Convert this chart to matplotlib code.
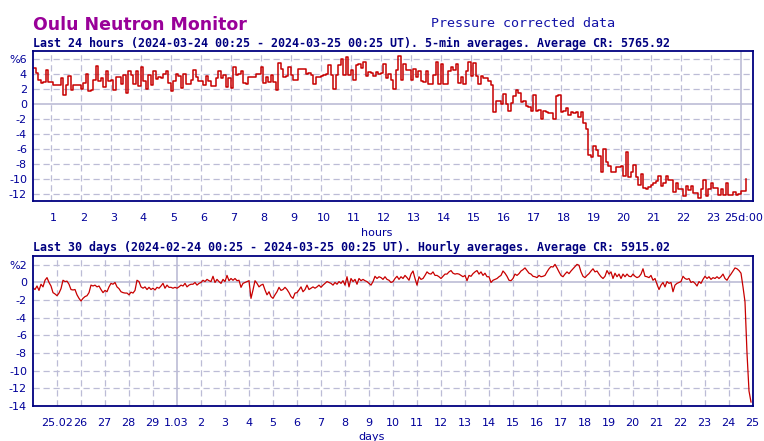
import numpy as np
import matplotlib
matplotlib.use('Agg')
import matplotlib.pyplot as plt
from matplotlib.transforms import ScaledTranslation

# ---------------- data ----------------
# Last 24 hours, 5-min averages (% relative to average), starting 2024-03-24 00:25 UT
day_values = [
    4.7, 4.1, 3.2, 2.75, 2.85, 4.5, 2.85, 2.9, 2.45, 2.5, 2.5, 3.4, 1.2, 2.5, 3.65, 1.85, 2.45, 2.5, 2.5,
    1.95, 2.75, 4.0, 1.65, 1.85, 3.2, 5.0, 3.0, 3.35, 2.2, 4.4, 3.05, 3.2, 1.75, 3.5, 3.5,
    2.55, 3.8, 1.4, 4.4, 3.8, 2.65, 4.4, 2.3, 4.85, 3.05, 2.0, 3.8, 2.45, 4.3, 3.3, 3.55, 3.4, 4.0, 4.4,
    2.75, 1.65, 3.05, 3.95, 3.65, 2.1, 4.0, 2.65, 2.65, 3.2, 4.5, 3.5, 3.0, 3.0, 2.45, 3.65, 3.0, 2.3, 2.3,
    3.35, 4.3, 3.35, 3.85, 2.2, 3.35, 2.1, 4.85, 3.8, 3.95, 4.4, 2.75, 2.55, 3.5, 3.5, 3.5, 3.95, 3.95,
    4.85, 2.75, 3.5, 2.85, 3.85,
    2.85, 1.75, 5.4, 4.65, 3.5, 3.65, 4.9, 3.85, 3.2, 3.2, 4.65, 4.65, 4.65, 4.0, 4.1, 3.85, 2.55, 3.55,
    3.55, 3.7, 3.85, 4.0, 5.2, 3.85, 1.95, 3.85, 5.1, 6.0, 3.85, 6.2, 3.8, 4.5, 3.1, 5.2, 5.3, 4.75, 5.55,
    3.65, 4.2, 4.1, 3.65, 4.2, 4.0, 4.1, 5.3, 3.4, 4.0, 3.2, 2.0, 4.5, 6.4, 3.2, 5.3, 4.45, 4.45, 3.1,
    4.65, 3.5, 4.3, 3.05, 2.85, 4.4, 2.65, 2.55, 3.85, 5.55, 2.55, 5.3, 2.55, 2.55, 4.3, 4.9, 4.45, 5.3,
    2.75, 3.55, 2.55, 4.3, 5.5, 3.7, 5.4, 3.65, 2.55, 3.65, 3.4, 3.35, 3.0, 2.45, -1.15, 0.3, 0.4, 0.0,
    1.3, 0.0,
    -0.95, 0.1, 1.0, 1.75, 1.35, 0.2, 0.3, -0.35, -0.5, -1.0, 1.2, -1.0, -0.8, -2.0, -0.95, -1.1, -1.25,
    -1.25, -2.1, 1.05, 1.2, -1.15, -0.95, -0.6, -1.55, -1.1, -1.25, -1.15, -1.8, -1.1, -2.65, -3.45,
    -6.8, -7.1, -5.6, -6.25, -7.0, -9.15, -6.0, -7.8, -8.35, -9.1, -9.15, -8.5, -8.5, -8.35, -9.7, -6.5,
    -9.8, -9.1, -8.2, -9.8, -10.9, -9.35, -11.25, -11.35, -11.15, -10.8, -10.6, -10.35, -9.6, -11.0,
    -10.6, -9.7, -10.15, -10.15, -11.8, -10.6, -11.4, -11.4, -12.35, -11.0, -11.5, -11.0, -11.9, -11.9,
    -12.6, -11.35, -10.25, -12.35, -11.4, -10.6, -11.25, -11.25, -12.15, -11.4, -12.2, -10.65, -12.25,
    -12.2, -11.8, -12.15, -12.05, -11.7, -11.6, -10.0,
]

# Last 30 days, sampled every 2 hours (% relative to average), starting 2024-02-24 00:25 UT
month_values = [
    # 24.02 - 04.03
    -0.6, -0.8, -0.4, -0.9, -0.2, -0.5, 0.25, 0.55, 0.0, -0.4, -1.15, -1.3, -1.5, -1.2, -0.7, 0.25,
    0.1, 0.15, -0.2, -0.8, -0.85, -0.8, -1.4, -1.8, -2.1, -1.8, -1.6, -1.5, -1.15, -0.3, -0.4, -0.3,
    -0.5, -0.4, -0.8, -1.15, -0.9, -1.05, -0.5, -0.1, -0.2, 0.0, -0.5, -0.7, -1.05, -1.15, -1.2, -1.2,
    -1.4, -1.1, -1.2, -0.9, 0.25, 0.1, -0.5, -0.65, -0.5, -0.8, -0.55, -0.8, -0.65, -0.85, -0.55, -0.65,
    -0.4, -0.1, -0.65, -0.3, -0.55, -0.55, -0.65, -0.55, -0.65, -0.5, -0.3, -0.4, -0.1, -0.5, -0.3,
    -0.2, -0.2, 0.0, -0.3, -0.1, 0.0, 0.25, 0.1, 0.35, 0.2, 0.1, 0.7, 0.0, 0.35, 0.1, -0.1, 0.35, 0.1,
    0.8, 0.2, 0.45, 0.25, 0.45, 0.2, 0.25, -0.55, -0.1, 0.0, 0.1, 0.2,
    # 04.03 - 14.03
    -1.8, -0.85, 0.2, -0.1, -0.5, -0.3, -0.2, -0.85, -1.4, -1.05, -1.6, -1.8, -1.4, -1.05, -0.55, -0.9,
    -0.8, -0.55, -0.8, -1.15, -1.6, -1.8, -1.2, -1.15, -0.85, -0.5, -1.05, -0.8, -0.3, -0.8, -0.65,
    -0.5, -0.65, -0.5, -0.3, -0.55, -0.3, -0.1, 0.1, 0.0, -0.1, -0.3, 0.0, -0.2, 0.1, -0.1, 0.2, -0.3,
    0.65, -0.5, 0.45, 0.1, 0.35, -0.2, 0.45, 0.2, 0.35, 0.2, 0.1, -0.1, -0.3, 0.1, 0.7, 0.45, 0.65,
    0.55, 0.35, 0.65, 0.35, 0.25, 0.0, 0.1, 0.45, 0.7, 0.35, 0.65, 0.45, 0.8, 0.55, 0.25, 0.95, 1.3,
    0.45, -0.3, 0.65, 0.35, 0.45, 0.8, 1.2, 1.0, 0.95, 1.2, 0.8, 0.8, 0.65, 0.45, 0.7, 0.95, 0.95, 1.2,
    1.35, 1.05, 0.95, 1.0, 0.95, 0.8, 0.65, 0.8, 0.2, 0.8, 0.7, 1.0, 1.2, 1.35, 0.95, 1.2, 0.8, 1.05,
    0.65, 0.65, 0.0, 0.25, 0.35, 0.45, 0.65, 0.8, 1.3, 1.05, 0.7, 0.25,
    # 14.03 - 25.03
    0.2, 0.45, 0.95, 0.8, 1.0, 1.3, 1.45, 1.65, 1.35, 1.05, 0.95, 0.7, 0.65, 0.55, 0.8, 0.65, 0.7, 0.8,
    1.2, 1.55, 1.8, 1.75, 2.05, 1.65, 1.2, 0.8, 0.65, 0.95, 1.2, 1.0, 1.3, 1.55, 1.8, 2.05, 1.95, 1.2,
    0.7, 0.55, 0.8, 1.0, 1.3, 1.55, 1.2, 1.3, 0.95, 0.65, 0.45, 0.7, 1.35, 0.95, 1.2, 0.45, 1.05, 0.65,
    0.95, 0.45, 0.95, 0.65, 0.95, 0.7, 0.65, 0.95, 0.7, 0.55, 0.65, 0.95, 1.55, 0.7, 0.65, 0.55, 0.8,
    0.25, 0.45, -0.2, -0.8, -0.3, 0.0, -0.5, 0.1, -0.1, 0.0, -1.05, -0.3, -0.1, 0.0, 0.1, 0.7, 0.45,
    0.35, 0.45, 0.0, 0.1, -0.1, -0.4, 0.1, -0.1, 0.35, 0.7, 0.45, 0.65, 0.35, 0.55, 0.45, 0.65, 0.45,
    0.65, 0.95, 0.45, 0.25, 0.65, 0.95, 1.3, 1.65, 1.55, 1.35, 1.05,
    -0.5, -2.2, -8.0, -12.3, -13.55,
]

hour_labels = [str(h) for h in range(1, 24)] + ['25d:00']
day_labels = ['25.02', '26', '27', '28', '29', '1.03'] + [str(d) for d in range(2, 26)]
top_yticks = list(range(-12, 7, 2))
bot_yticks = list(range(-14, 3, 2))

title = 'Oulu Neutron Monitor'
note = 'Pressure corrected data'
sub1 = 'Last 24 hours (2024-03-24 00:25 - 2024-03-25 00:25 UT). 5-min averages. Average CR: 5765.92'
sub2 = 'Last 30 days (2024-02-24 00:25 - 2024-03-25 00:25 UT). Hourly averages. Average CR: 5915.02'

# ---------------- style ----------------
NAVY = '#000080'
TICKC = '#00009a'
GRID = '#bcbcd6'
RED = '#c80000'
W, H = 764, 441

fig = plt.figure(figsize=(W / 100, H / 100), dpi=100)
fig.patch.set_facecolor('white')


def px(x, y):
    return x / W, 1 - y / H


ax1 = fig.add_axes([33 / W, 1 - 201 / H, 720 / W, 150 / H])
ax2 = fig.add_axes([33 / W, 1 - 406 / H, 720 / W, 150 / H])

start_offset = 25 / 60  # data start at 00:25

# ---- top panel ----
t1 = np.arange(len(day_values)) * 5 / 60
ax1.set_xlim(0, 24)
ax1.set_ylim(-13, 7)
hour_pos = [h - start_offset for h in range(1, 25)]
for y in top_yticks:
    if y != 0:
        ax1.axhline(y, color=GRID, lw=0.9, ls=(0, (5, 3)), zorder=1)
for i, x in enumerate(hour_pos):
    if hour_labels[i].endswith('d:00'):
        ax1.axvline(x, color=GRID, lw=1.2, zorder=1)
    else:
        ax1.axvline(x, color=GRID, lw=0.9, ls=(0, (5, 3)), zorder=1)
ax1.axhline(0, color=GRID, lw=1.2, zorder=1)
ax1.plot(t1, day_values, drawstyle='steps-post', color=RED, lw=1.1, zorder=3)
ax1.set_xticks(hour_pos)
ax1.set_xticklabels(hour_labels)
ax1.set_yticks(top_yticks)
ax1.set_yticklabels([('%' + str(v)) if v == top_yticks[-1] else str(v) for v in top_yticks])

# ---- bottom panel ----
t2 = np.arange(len(month_values)) * 2
ax2.set_xlim(0, 720)
ax2.set_ylim(-14, 3)
day_pos = [24 * k + 24 - start_offset for k in range(30)]
for y in bot_yticks:
    if y != 0:
        ax2.axhline(y, color=GRID, lw=0.9, ls=(0, (5, 3)), zorder=1)
for i, x in enumerate(day_pos):
    if '.' in day_labels[i] and i > 0:
        ax2.axvline(x, color=GRID, lw=1.2, zorder=1)
    else:
        ax2.axvline(x, color=GRID, lw=0.9, ls=(0, (5, 3)), zorder=1)
ax2.axhline(0, color=GRID, lw=1.2, zorder=1)
ax2.plot(t2, month_values, color=RED, lw=0.9, zorder=3)
ax2.set_xticks(day_pos)
ax2.set_xticklabels(day_labels)
ax2.set_yticks(bot_yticks)
ax2.set_yticklabels([('%' + str(v)) if v == bot_yticks[-1] else str(v) for v in bot_yticks])

for ax in (ax1, ax2):
    for s in ax.spines.values():
        s.set_color(NAVY)
        s.set_linewidth(1.3)
        s.set_zorder(5)
    ax.tick_params(axis='both', length=0, colors=TICKC, labelsize=8)
    ax.tick_params(axis='x', pad=8.5)
    ax.tick_params(axis='y', pad=4.3)
    for lab in ax.get_xticklabels() + ax.get_yticklabels():
        lab.set_color(TICKC)

shift = ScaledTranslation(3 / 100, 0, fig.dpi_scale_trans)
for lab in ax1.get_xticklabels():
    lab.set_transform(lab.get_transform() + shift)

# ---- texts ----
fig.text(*px(33, 30), title, color='#990099', fontsize=12.5, weight='bold',
         family='DejaVu Sans', ha='left', va='baseline')
fig.text(*px(431, 27), note, color='#1414a8', fontsize=9.6, family='DejaVu Sans Mono',
         ha='left', va='baseline')
fig.text(*px(33, 46.5), sub1, color=NAVY, fontsize=8.4, weight='bold',
         family='DejaVu Sans Mono', ha='left', va='baseline')
fig.text(*px(33, 251.5), sub2, color=NAVY, fontsize=8.4, weight='bold',
         family='DejaVu Sans Mono', ha='left', va='baseline')
fig.text(*px(377, 236), 'hours', color=TICKC, fontsize=8, ha='center', va='baseline')
fig.text(*px(372, 440), 'days', color=TICKC, fontsize=8, ha='center', va='baseline')

fig.savefig('out.png', dpi=100, facecolor='white')
